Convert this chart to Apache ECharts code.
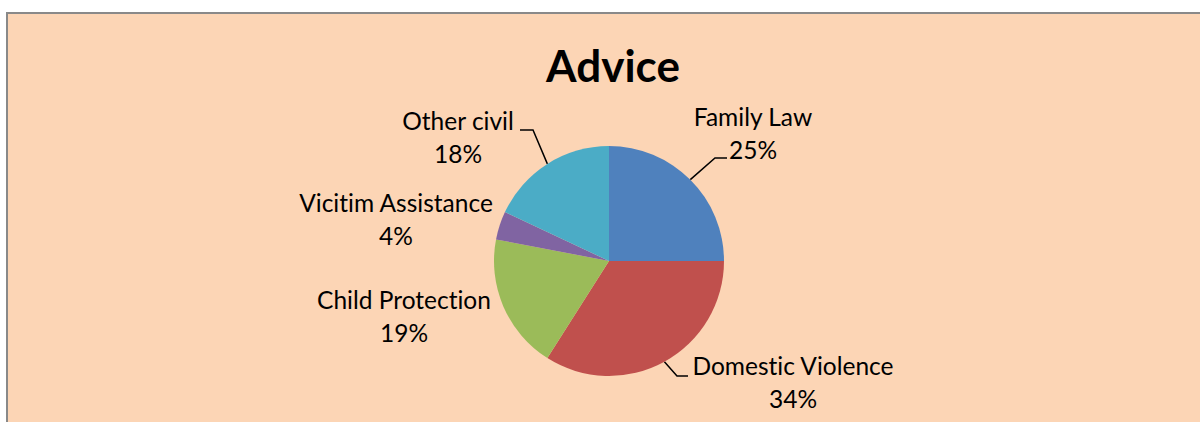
<!DOCTYPE html>
<html>
<head>
<meta charset="utf-8">
<script src="https://cdn.jsdelivr.net/npm/echarts@6/dist/echarts.min.js"></script>
<style>
html,body{margin:0;padding:0;background:#ffffff;}
#chart{width:1200px;height:422px;}
#chart text{font-variant-ligatures:none;font-feature-settings:"liga" 0, "clig" 0;}
</style>
</head>
<body>
<div id="chart"></div>
<script>
const title = "Advice";
const categories = ["Family Law", "Domestic Violence", "Child Protection", "Vicitim Assistance", "Other civil"];
const percents = [25, 34, 19, 4, 18];
const colors = ["#4F81BD", "#C0504D", "#9BBB59", "#8064A2", "#4BACC6"];

// label placement (Excel-style), center of each two-line label and leader line elbow/end
const labelLayoutCfg = [
  { x: 753, y: 133, line: [[715, 158], [727, 158]] },
  { x: 793, y: 382, line: [[677, 376], [688, 376]] },
  { x: 404, y: 316, line: null },
  { x: 396, y: 219, line: null },
  { x: 458, y: 137, line: [[533, 130], [520, 130]] }
];

const FONT = "Lato, 'Noto Sans', sans-serif";
const chart = echarts.init(document.getElementById('chart'), null, { renderer: 'svg' });

const data = categories.map((name, i) => ({
  name: name,
  value: percents[i],
  itemStyle: { color: colors[i] },
  labelLine: { show: !!labelLayoutCfg[i].line }
}));

chart.setOption({
  animation: false,
  backgroundColor: '#ffffff',
  graphic: [{
    type: 'rect',
    z: -10,
    silent: true,
    shape: { x: 7, y: 13, width: 1220, height: 440 },
    style: { fill: '#FCD5B5', stroke: '#898989', lineWidth: 2 }
  }],
  title: {
    text: title,
    left: 608,
    top: 38,
    textAlign: 'center',
    textStyle: { fontFamily: FONT, fontWeight: 'bold', fontSize: 44, color: '#000000' }
  },
  series: [{
    type: 'pie',
    center: [609, 261],
    radius: 115,
    startAngle: 90,
    clockwise: true,
    avoidLabelOverlap: false,
    itemStyle: { borderWidth: 0 },
    emphasis: { disabled: true },
    label: {
      show: true,
      position: 'outside',
      formatter: function (p) { return p.name + '\n' + p.value + '%'; },
      fontFamily: FONT,
      fontSize: 24.5,
      lineHeight: 33,
      color: '#000000',
      align: 'center'
    },
    labelLine: {
      show: true,
      length: 20,
      length2: 10,
      lineStyle: { color: '#000000', width: 1.5 }
    },
    labelLayout: function (params) {
      const cfg = labelLayoutCfg[params.dataIndex];
      const out = { x: cfg.x, y: cfg.y, align: 'center', verticalAlign: 'middle' };
      if (cfg.line && params.labelLinePoints) {
        out.labelLinePoints = [params.labelLinePoints[0], cfg.line[0], cfg.line[1]];
      }
      return out;
    },
    data: data
  }]
});
</script>
</body>
</html>
